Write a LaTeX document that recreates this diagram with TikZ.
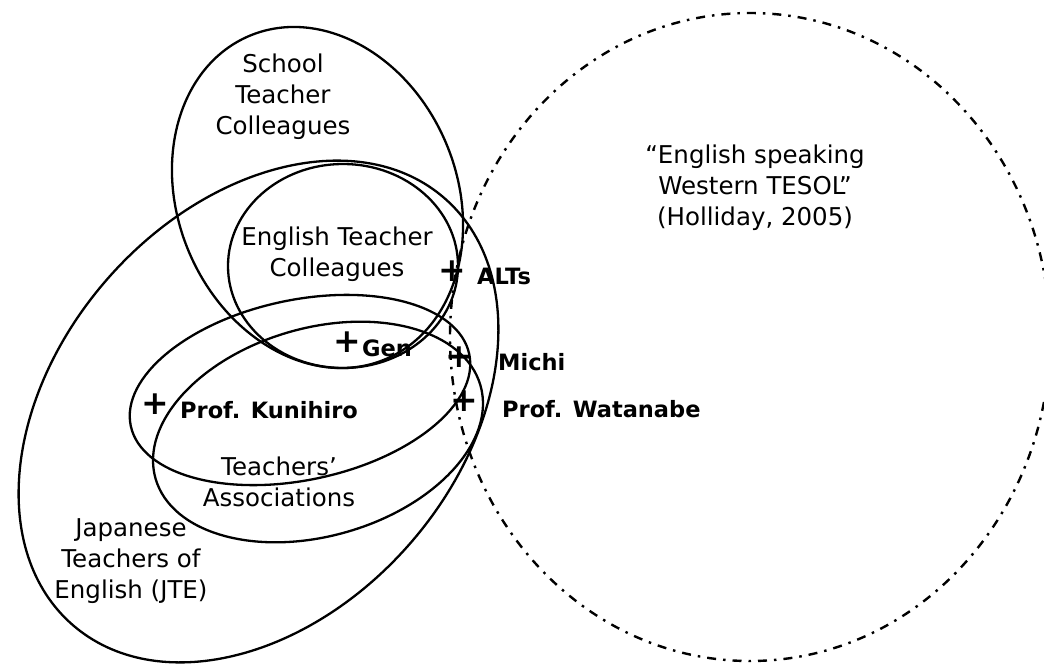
\documentclass[tikz,border=0pt]{standalone}
\usepackage{fontspec}
\setmainfont{DejaVu Sans}
\begin{document}
\begin{tikzpicture}[x=1pt, y=1pt,
    ring/.style={draw, line width=2.3pt},
    outerring/.style={draw, line width=2.4pt, dash pattern=on 9pt off 7pt on 2.5pt off 7pt},
    grouplabel/.style={align=center, font=\fontsize{24.5}{31}\selectfont, inner sep=0pt},
    member/.style={anchor=west, font=\fontsize{22.5}{26}\selectfont\bfseries, inner sep=0pt},
    marker/.style={font=\fontsize{33}{33}\selectfont\bfseries, inner sep=0pt}]

        \useasboundingbox (0,0) rectangle (1044,-664);

        % groups
        \draw[ring, rotate around={22.8:(317.5,-197.5)}] (317.5,-197.5) ellipse [x radius=139.6, y radius=175.4];
        \draw[ring] (343,-266) ellipse [x radius=115, y radius=102];
        \draw[ring, rotate around={48.9:(258.5,-411.5)}] (258.5,-411.5) ellipse [x radius=283, y radius=201];
        \draw[ring, rotate around={12:(300,-390)}] (300,-390) ellipse [x radius=173, y radius=90];
        \draw[ring, rotate around={16:(318,-432)}] (318,-432) ellipse [x radius=169, y radius=104];
        \draw[outerring] (750,-337) ellipse [x radius=300, y radius=324];

        \node[grouplabel] at (283,-97) (school) {School\\Teacher\\Colleagues};
        \node[grouplabel] at (337,-254) (englishcol) {English Teacher\\Colleagues};
        \node[grouplabel] at (279,-482) (assoc) {Teachers’\\Associations};
        \node[grouplabel] at (131,-561) (jte) {Japanese\\Teachers of\\English (JTE)};
        \node[grouplabel] at (755,-188) (tesol) {“English speaking\\Western TESOL”\\ (Holliday, 2005)};

        % people
        \node[marker] at (452,-271) (altsmark) {+};
        \node[marker] at (459,-357) (michimark) {+};
        \node[marker] at (464,-401) (watanabemark) {+};
        \node[marker] at (347,-342) (genmark) {+};
        \node[marker] at (155,-404) (kunihiromark) {+};

        \node[member] at (477,-276) (alts) {ALTs};
        \node[member] at (498,-362) (michi) {Michi};
        \node[member] at (502,-409) (watanabe) {Prof. Watanabe};
        \node[member] at (362,-348) (gen) {Gen};
        \node[member] at (180,-410) (kunihiro) {Prof. Kunihiro};
        \end{tikzpicture}
\end{document}
